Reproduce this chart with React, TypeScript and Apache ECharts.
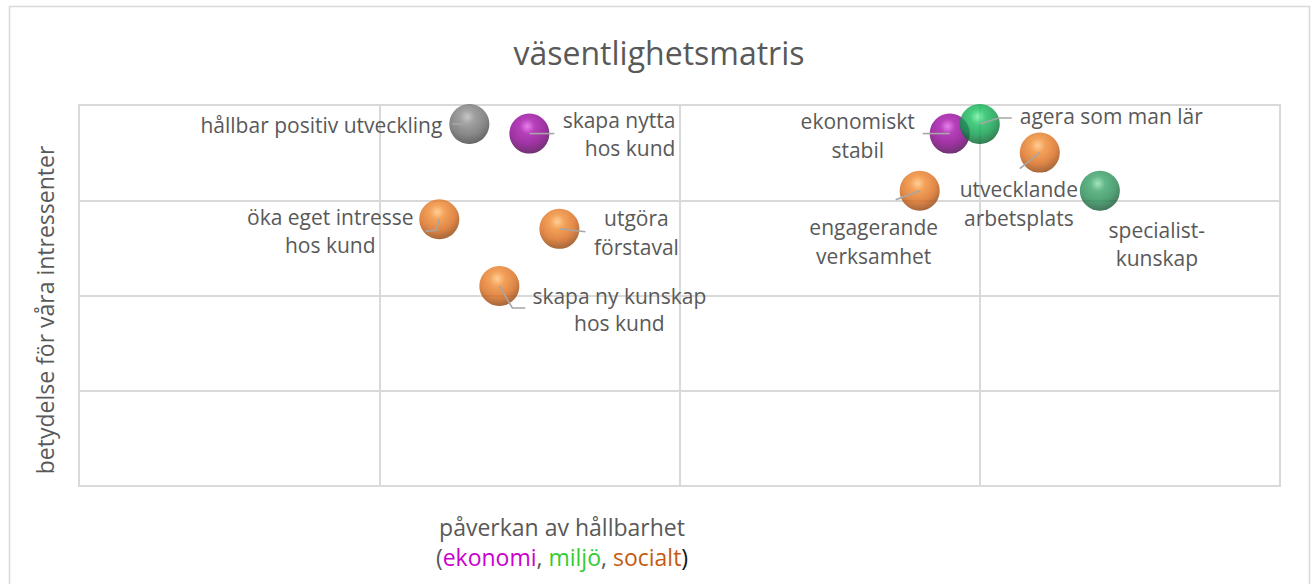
import React, { useEffect, useRef } from "react";
import * as echarts from "echarts";

// ---- data ----
const pointNames = [
  "hållbar positiv utveckling",
  "skapa nytta hos kund",
  "öka eget intresse hos kund",
  "utgöra förstaval",
  "skapa ny kunskap hos kund",
  "ekonomiskt stabil",
  "agera som man lär",
  "utvecklande arbetsplats",
  "engagerande verksamhet",
  "specialist-kunskap",
];
const impactValues = [1.3, 1.5, 1.2, 1.6, 1.4, 2.9, 3.0, 3.2, 2.8, 3.4];
const importanceValues = [3.8, 3.7, 2.8, 2.7, 2.1, 3.7, 3.8, 3.5, 3.1, 3.1];
const pointGroups = [
  "hållbarhet",
  "ekonomi",
  "socialt",
  "socialt",
  "socialt",
  "ekonomi",
  "miljö",
  "socialt",
  "socialt",
  "miljö",
];
const labelLines = [
  ["hållbar positiv utveckling"],
  ["skapa nytta", "hos kund"],
  ["öka eget intresse", "hos kund"],
  ["utgöra", "förstaval"],
  ["skapa ny kunskap", "hos kund"],
  ["ekonomiskt", "stabil"],
  ["agera som man lär"],
  ["utvecklande", "arbetsplats"],
  ["engagerande", "verksamhet"],
  ["specialist-", "kunskap"],
];
const titleText = "väsentlighetsmatris";
const yAxisTitle = "betydelse för våra intressenter";
const xAxisTitle = "påverkan av hållbarhet";

// ---- styles / layout ----
const FONT = "'Open Sans', 'Noto Sans', sans-serif";
const TEXT = "#595959";
const GRIDC = "#d9d9d9";
const LABEL_SIZE = 21;
const AXIS_SIZE = 23;

// per-point text line offsets [dx, dy, align] relative to ball centre
const labelLayout: Array<Array<[number, number, string]>> = [
  [[-27, 1, "right"]],
  [[146, -14, "right"], [146, 14, "right"]],
  [[-109, -2, "center"], [-109, 26, "center"]],
  [[77, -11, "center"], [77, 18, "center"]],
  [[120, 10, "center"], [120, 37, "center"]],
  [[-92, -13, "center"], [-92, 16, "center"]],
  [[40, -8, "left"]],
  [[-21, 36, "center"], [-21, 65, "center"]],
  [[-46, 36, "center"], [-46, 65, "center"]],
  [[57, 39, "center"], [57, 67, "center"]],
];
const leaderLines: Array<Array<[number, number]>> = [
  [[0, 0], [-17, 0]],
  [[0, 0], [25, 0]],
  [[0, 0], [-3, 11], [-14, 12]],
  [[0, 0], [26, 3]],
  [[0, 0], [13, 22], [26, 22]],
  [[0, 0], [-27, 0]],
  [[0, 0], [19, -6], [32, -6]],
  [[0, 0], [-20, 16]],
  [[0, 0], [-24, 9]],
  [],
];

const ballPalette: Record<string, [string, string, string, string]> = {
  hållbarhet: ["#b8b8b8", "#888888", "#6a6a6a", "#333333"],
  ekonomi: ["#e060e6", "#a410aa", "#85008a", "#3c003e"],
  socialt: ["#ffc27a", "#f08a30", "#d8691a", "#7a3505"],
  miljö: ["#70f0a0", "#18c060", "#0a9a48", "#024a20"],
};
const specialistPalette: [string, string, string, string] = ["#8fdcae", "#3aa46a", "#278a54", "#0f4528"];

function ballColor(i: number) {
  const p = i === 9 ? specialistPalette : ballPalette[pointGroups[i]];
  return new echarts.graphic.RadialGradient(0.45, 0.32, 0.75, [
    { offset: 0, color: p[0] },
    { offset: 0.25, color: p[1] },
    { offset: 0.6, color: p[2] },
    { offset: 1, color: p[3] },
  ]);
}

export default function App() {
  const ref = useRef<HTMLDivElement>(null);
  useEffect(() => {
    document.body.style.margin = "0";
    const chart = echarts.init(ref.current!, null, { renderer: "svg" });
    const pts = impactValues.map((x, i) => [x, importanceValues[i]]);
    chart.setOption({
      animation: false,
      backgroundColor: "#ffffff",
      grid: {
        left: 79,
        top: 105,
        width: 1201,
        height: 381,
        show: true,
        borderColor: GRIDC,
        borderWidth: 2,
      },
      xAxis: {
        type: "value",
        min: 0,
        max: 4,
        interval: 1,
        axisLine: { show: true, lineStyle: { color: GRIDC, width: 2 } },
        axisTick: { show: false },
        axisLabel: { show: false },
        splitLine: { show: true, lineStyle: { color: GRIDC, width: 2 } },
      },
      yAxis: {
        type: "value",
        min: 0,
        max: 4,
        interval: 1,
        axisLine: { show: true, lineStyle: { color: GRIDC, width: 2 } },
        axisTick: { show: false },
        axisLabel: { show: false },
        splitLine: { show: true, lineStyle: { color: GRIDC, width: 2 } },
      },
      graphic: [
        {
          type: "rect",
          silent: true,
          shape: { x: 9.5, y: 6.5, width: 1300, height: 620 },
          style: { fill: "none", stroke: GRIDC, lineWidth: 1.5 },
          z: -10,
        },
        {
          type: "text",
          x: 659,
          y: 52,
          style: {
            text: titleText,
            fill: TEXT,
            font: `32px ${FONT}`,
            align: "center",
            verticalAlign: "middle",
          },
        },
        {
          type: "text",
          x: 45,
          y: 310,
          rotation: Math.PI / 2,
          style: {
            text: yAxisTitle,
            fill: TEXT,
            font: `${AXIS_SIZE}px ${FONT}`,
            align: "center",
            verticalAlign: "middle",
          },
        },
        {
          type: "text",
          x: 562,
          y: 527,
          style: {
            text: xAxisTitle,
            fill: TEXT,
            font: `${AXIS_SIZE}px ${FONT}`,
            align: "center",
            verticalAlign: "middle",
          },
        },
        {
          type: "text",
          x: 562,
          y: 557,
          style: {
            text: "{g|(}{e|ekonomi}{g|, }{m|miljö}{g|, }{s|socialt}{k|)}",
            font: `${AXIS_SIZE}px ${FONT}`,
            align: "center",
            verticalAlign: "middle",
            rich: {
              g: { fill: TEXT, fontSize: AXIS_SIZE, fontFamily: FONT },
              e: { fill: "#cc00cc", fontSize: AXIS_SIZE, fontFamily: FONT },
              m: { fill: "#33cc33", fontSize: AXIS_SIZE, fontFamily: FONT },
              s: { fill: "#c55a11", fontSize: AXIS_SIZE, fontFamily: FONT },
              k: { fill: "#111111", fontSize: AXIS_SIZE, fontFamily: FONT },
            },
          },
        },
      ],
      series: [
        {
          type: "scatter",
          name: "punkter",
          symbol: "circle",
          symbolSize: 40,
          z: 2,
          data: pts.map((v, i) => ({
            name: pointNames[i],
            value: v,
            itemStyle: { color: ballColor(i) },
          })),
        },
        {
          type: "custom",
          name: "etiketter",
          z: 3,
          clip: false,
          data: pts,
          encode: { x: 0, y: 1 },
          renderItem: (params: any, api: any) => {
            const i = params.dataIndex;
            const c = api.coord([api.value(0), api.value(1)]);
            const children: any[] = [];
            const ll = leaderLines[i];
            if (ll.length > 1) {
              children.push({
                type: "polyline",
                shape: { points: ll.map((p) => [c[0] + p[0], c[1] + p[1]]) },
                style: { stroke: "#a6a6a6", lineWidth: 1.6, fill: "none" },
              });
            }
            labelLines[i].forEach((t, k) => {
              const [dx, dy, al] = labelLayout[i][k];
              children.push({
                type: "text",
                x: c[0] + dx,
                y: c[1] + dy,
                style: {
                  text: t,
                  fill: TEXT,
                  font: `${LABEL_SIZE}px ${FONT}`,
                  align: al,
                  verticalAlign: "middle",
                },
              });
            });
            return { type: "group", children };
          },
        },
      ],
    });
    return () => chart.dispose();
  }, []);
  return <div ref={ref} style={{ width: 1313, height: 584 }} />;
}
